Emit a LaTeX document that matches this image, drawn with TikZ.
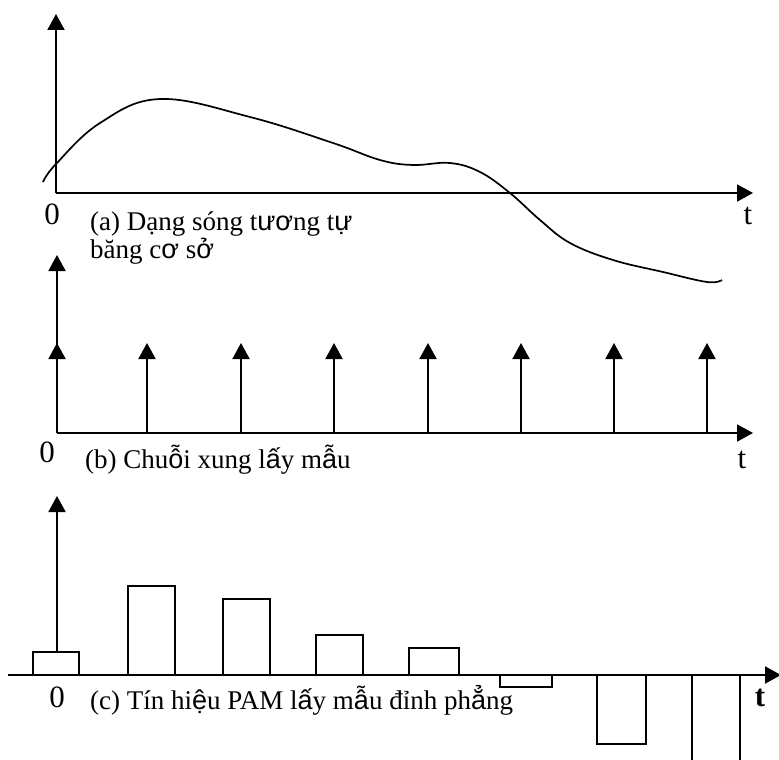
\documentclass[tikz,border=0pt]{standalone}
\usepackage{fontspec}
\setmainfont{Liberation Serif}
\newfontfamily\vsans{Liberation Sans}
\newcommand\vs[1]{{\vsans #1}}
\usetikzlibrary{arrows.meta}
\begin{document}
\begin{tikzpicture}[x=1pt,y=-1pt,
  axis/.style={line width=2pt,-{Triangle[width=17pt,length=16pt]}},
  imp/.style={line width=2pt,-{Triangle[width=17pt,length=16pt]}},
  bar/.style={line width=1.7pt,draw=black},
  wave/.style={line width=1.7pt},
  captxt/.style={font=\fontsize{27}{28}\selectfont,anchor=base west,inner sep=0pt,align=left},
  lbl/.style={font=\fontsize{31}{32}\selectfont,anchor=base,inner sep=0pt}]
\clip (0,0) rectangle (779,760);
\fill[white] (0,0) rectangle (779,760);

% ---------- panel (a)
\coordinate (ao) at (56,193);
\coordinate (ay) at (56,14);
\coordinate (ax) at (753,193);
\draw[axis] (ao) -- (ay);
\draw[axis] (ao) -- (ax);
\draw[wave] plot[smooth,tension=0.65] coordinates {(43,182) (56,164) (100,123) (160,99) (250,117) (333,143) (380,160) (413,165) (450,163) (480,172) (510,193) (540,220) (570,243) (613,260) (663,272) (707,282) (722,280)};
\node[lbl] (a0) at (52,224) {0};
\node[lbl] (at) at (748,224) {t};
\node[captxt] (acap1) at (90,230) {(a) Dạng sóng t\vs{ươ}ng t\vs{ự}};
\node[captxt] (acap2) at (90,258) {băng c\vs{ơ} s\vs{ở}};

% ---------- panel (b)
\coordinate (bo) at (57,433);
\coordinate (by) at (57,255);
\coordinate (bx) at (753,433);
\draw[axis] (bo) -- (by);
\draw[axis] (bo) -- (bx);
\foreach \i/\x in {0/57,1/147,2/241,3/334,4/428,5/521,6/614,7/707}{
  \coordinate (bb\i) at (\x,433);
  \coordinate (bt\i) at (\x,343);
  \draw[imp] (bb\i) -- (bt\i);
}
\node[lbl] (b0) at (47,462) {0};
\node[lbl] (bt) at (742,468) {t};
\node[captxt] (bcap) at (85,468) {(b) Chu\vs{ỗ}i xung l\vs{ấ}y m\vs{ẫ}u};

% ---------- panel (c)
\coordinate (co) at (57,652);
\coordinate (cy) at (57,496);
\coordinate (cl) at (8,675);
\coordinate (cx) at (781,675);
\draw[axis] (co) -- (cy);
\draw[axis] (cl) -- (cx);
\draw[bar] (33,652) rectangle (79,675);
\draw[bar] (128,586) rectangle (175,675);
\draw[bar] (223,599) rectangle (270,675);
\draw[bar] (316,635) rectangle (363,675);
\draw[bar] (409,648) rectangle (459,675);
\draw[bar] (500,675) rectangle (552,687);
\draw[bar] (597,675) rectangle (646,744);
\draw[bar] (692,675) rectangle (740,775);
\node[lbl] (c0) at (57,707) {0};
\node[lbl] (ct) at (760,706) {\textbf{t}};
\node[captxt] (ccap) at (90,709) {(c) Tín hi\vs{ệ}u PAM l\vs{ấ}y m\vs{ẫ}u đỉnh ph\vs{ẳ}ng};
\end{tikzpicture}
\end{document}
